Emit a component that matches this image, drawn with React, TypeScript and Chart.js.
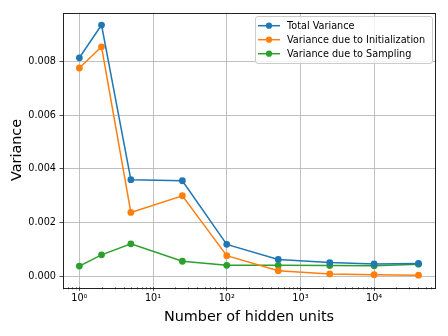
import React, { useEffect, useRef } from "react";
import { Chart, registerables } from "chart.js";

Chart.register(...registerables);

const hiddenUnits = [1, 2, 5, 25, 100, 500, 2500, 10000, 40000];
const totalVariance = [0.00814, 0.00936, 0.0036, 0.00356, 0.00119, 0.00063, 0.00051, 0.00046, 0.00048];
const initVariance = [0.00776, 0.00855, 0.00238, 0.0030, 0.00077, 0.00021, 0.00009, 0.00006, 0.00004];
const samplingVariance = [0.00038, 0.0008, 0.00121, 0.00056, 0.00041, 0.00041, 0.0004, 0.00039, 0.00045];
const seriesLabels = ["Total Variance", "Variance due to Initialization", "Variance due to Sampling"];
const seriesColors = ["#1f77b4", "#ff7f0e", "#2ca02c"];
const xMajorTicks = [1, 10, 100, 1000, 10000];
const xTickLabels = ["10\u2070", "10\u00b9", "10\u00b2", "10\u00b3", "10\u2074"];

const FONT = "'DejaVu Sans', sans-serif";

const framePlugin = {
  id: "mplFrame",
  afterDraw(chart: any) {
    const { ctx, chartArea } = chart;
    const { left, right, top, bottom } = chartArea;
    const xs = chart.scales.x;
    ctx.save();
    // minor ticks
    ctx.strokeStyle = "#222";
    ctx.lineWidth = 0.8;
    ctx.beginPath();
    for (let e = -1; e <= 5; e++) {
      for (let m = 2; m <= 9; m++) {
        const v = m * Math.pow(10, e);
        const px = xs.getPixelForValue(v);
        if (px < left || px > right) continue;
        ctx.moveTo(Math.round(px) + 0.5, bottom);
        ctx.lineTo(Math.round(px) + 0.5, bottom + 2);
      }
    }
    ctx.stroke();
    // spines
    ctx.strokeStyle = "#222";
    ctx.lineWidth = 1;
    ctx.strokeRect(Math.round(left) + 0.5, Math.round(top) + 0.5, Math.round(right - left), Math.round(bottom - top));
    // legend
    const lx = 255.5, ly = 16.5, lw = 177, lh = 47;
    ctx.fillStyle = "rgba(255,255,255,0.8)";
    ctx.strokeStyle = "#cccccc";
    ctx.lineWidth = 1;
    ctx.beginPath();
    const r = 2.5;
    ctx.moveTo(lx + r, ly);
    ctx.lineTo(lx + lw - r, ly);
    ctx.quadraticCurveTo(lx + lw, ly, lx + lw, ly + r);
    ctx.lineTo(lx + lw, ly + lh - r);
    ctx.quadraticCurveTo(lx + lw, ly + lh, lx + lw - r, ly + lh);
    ctx.lineTo(lx + r, ly + lh);
    ctx.quadraticCurveTo(lx, ly + lh, lx, ly + lh - r);
    ctx.lineTo(lx, ly + r);
    ctx.quadraticCurveTo(lx, ly, lx + r, ly);
    ctx.closePath();
    ctx.fill();
    ctx.stroke();
    ctx.font = "9.7px " + FONT;
    ctx.textBaseline = "middle";
    ctx.textAlign = "left";
    chart.data.datasets.forEach((ds: any, i: number) => {
      const y = 25.7 + i * 14;
      ctx.strokeStyle = ds.borderColor;
      ctx.lineWidth = 1.5;
      ctx.beginPath();
      ctx.moveTo(258, y);
      ctx.lineTo(280, y);
      ctx.stroke();
      ctx.fillStyle = ds.borderColor;
      ctx.beginPath();
      ctx.arc(269, y, 3.1, 0, Math.PI * 2);
      ctx.fill();
      ctx.fillStyle = "#000";
      ctx.fillText(ds.label, 287, y + 0.5);
    });
    ctx.restore();
  },
};

export default function App() {
  const ref = useRef<HTMLCanvasElement>(null);
  useEffect(() => {
    document.body.style.margin = "0";
    const series = [totalVariance, initVariance, samplingVariance];
    const chart = new Chart(ref.current!, {
      type: "line",
      data: {
        datasets: series.map((arr, i) => ({
          label: seriesLabels[i],
          data: hiddenUnits.map((x, j) => ({ x, y: arr[j] })),
          borderColor: seriesColors[i],
          backgroundColor: seriesColors[i],
          pointBackgroundColor: seriesColors[i],
          pointBorderColor: seriesColors[i],
          pointRadius: 3.4,
          pointBorderWidth: 0,
          borderWidth: 1.5,
          tension: 0,
          fill: false,
        })),
      },
      options: {
        animation: false,
        responsive: false,
        layout: { padding: { top: 12.7, right: 13, left: 0, bottom: 0 } },
        plugins: { legend: { display: false }, tooltip: { enabled: false } },
        scales: {
          x: {
            type: "logarithmic",
            min: 0.61,
            max: 67000,
            afterBuildTicks: (scale: any) => {
              scale.ticks = xMajorTicks.map((v) => ({ value: v, major: true }));
            },
            afterFit: (scale: any) => {
              scale.height = 48.7;
            },
            ticks: {
              autoSkip: false,
              maxRotation: 0,
              color: "#000",
              font: { family: FONT, size: 9.7 },
              padding: 2,
              callback: (v: any) => {
                const idx = xMajorTicks.indexOf(Number(v));
                return idx >= 0 ? xTickLabels[idx] : "";
              },
            },
            grid: {
              color: "#b0b0b0",
              lineWidth: 0.8,
              drawTicks: true,
              tickLength: 3.5,
              tickColor: "#222",
            },
            border: { display: false },
            title: {
              display: true,
              text: "Number of hidden units",
              color: "#000",
              font: { family: FONT, size: 14.4 },
              padding: { top: 0, bottom: 10.5 },
            },
          },
          y: {
            type: "linear",
            min: -0.00041,
            max: 0.00982,
            afterFit: (scale: any) => {
              scale.width = 63;
            },
            ticks: {
              stepSize: 0.002,
              includeBounds: false,
              color: "#000",
              font: { family: FONT, size: 9.7 },
              padding: 3.5,
              callback: (v: any) => Number(v).toFixed(3),
            },
            grid: {
              color: "#b0b0b0",
              lineWidth: 0.8,
              drawTicks: true,
              tickLength: 3.5,
              tickColor: "#222",
            },
            border: { display: false },
            title: {
              display: true,
              text: "Variance",
              color: "#000",
              font: { family: FONT, size: 14.4 },
              padding: { top: 8.6, bottom: 0 },
            },
          },
        },
      },
      plugins: [framePlugin],
    } as any);
    return () => chart.destroy();
  }, []);
  return <canvas ref={ref} width={448} height={336} style={{ display: "block" }} />;
}
